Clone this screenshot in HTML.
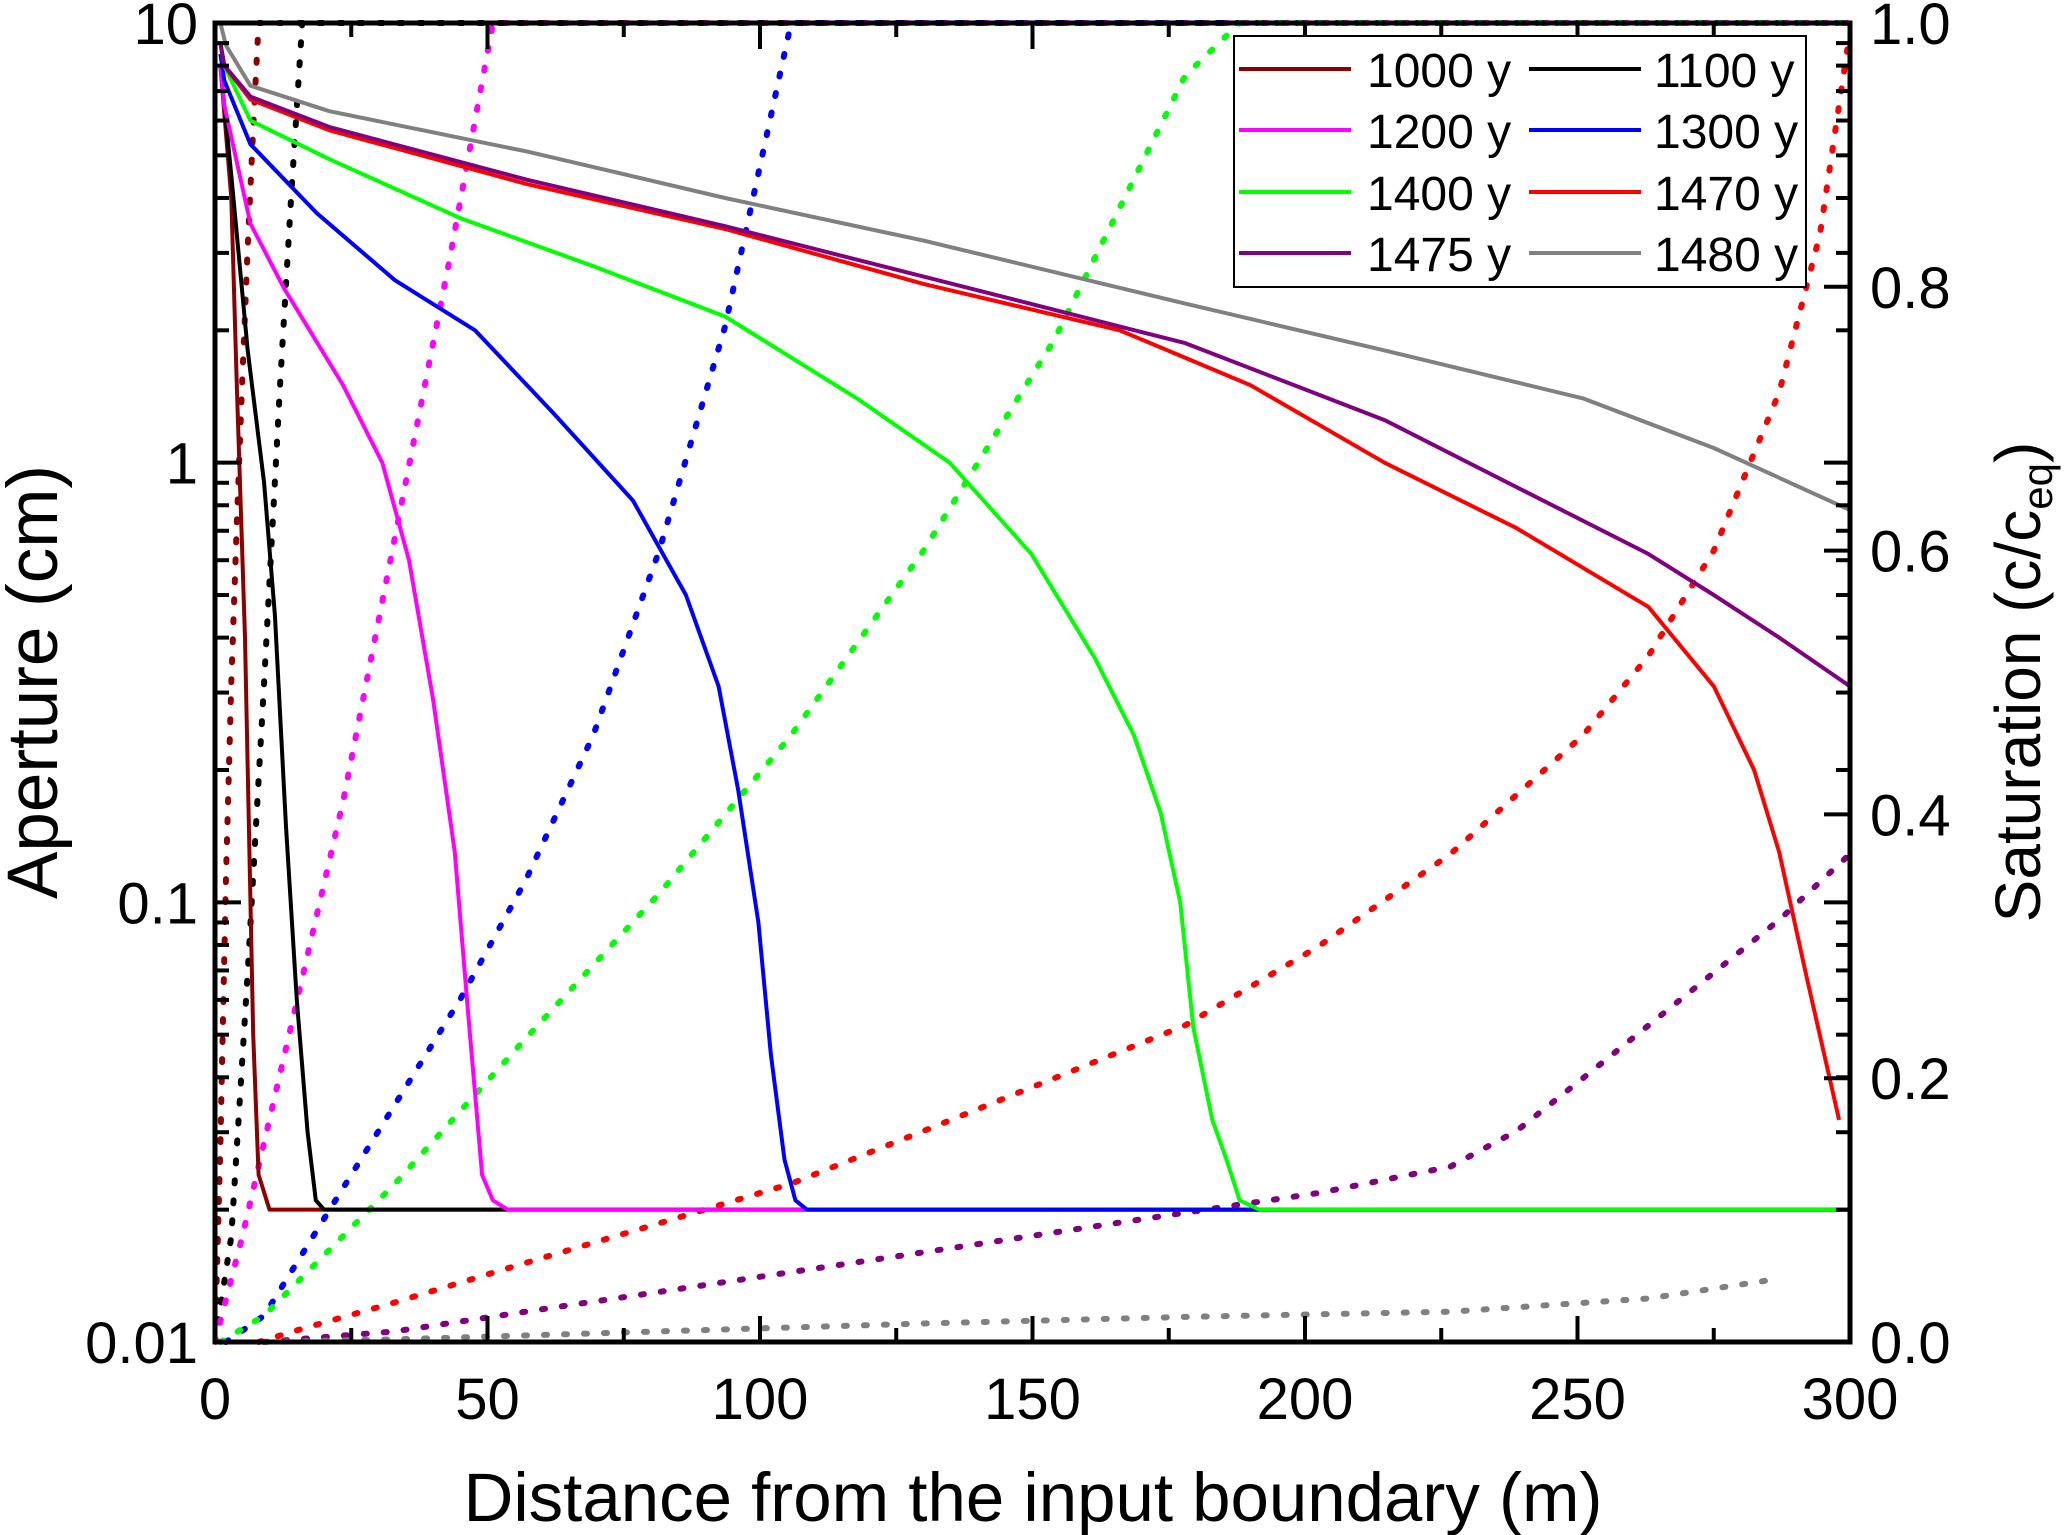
<!DOCTYPE html>
<html><head><meta charset="utf-8"><style>
html,body{margin:0;padding:0;background:#fff;}
svg{display:block;font-family:"Liberation Sans",Arial,sans-serif;}
</style></head><body>
<svg id="chart" width="2067" height="1535" viewBox="0 0 2067 1535" xmlns="http://www.w3.org/2000/svg">
<g id="marks"></g>
<g id="axes"></g>
</svg>
<script>
const seriesNames = ["1000 y","1100 y","1200 y","1300 y","1400 y","1470 y","1475 y","1480 y"];
const seriesColors = ["#8b0000","#000000","#ff00ff","#0000ff","#00ff00","#ff0000","#800080","#808080"];
const xTicks = [0,50,100,150,200,250,300];
const yTicks = [0.01,0.1,1,10];
const yTickLabels = ["0.01","0.1","1","10"];
const satTicks = [0,0.2,0.4,0.6,0.8,1.0];
const satTickLabels = ["0.0","0.2","0.4","0.6","0.8","1.0"];
const aperture1000 = [[1,8],[3,4],[4,1.5],[5.5,0.4],[7,0.05],[8,0.024],[10,0.02],[300,0.02]];
const aperture1100 = [[1,8],[3,4.5],[6,1.8],[9,0.9],[11,0.45],[13,0.15],[15,0.06],[17,0.03],[18.5,0.021],[20,0.02],[300,0.02]];
const aperture1200 = [[1,8],[1.7,6.5],[6.5,3.5],[12.6,2.5],[23.5,1.5],[30.7,1],[35.6,0.6],[40,0.29],[44,0.13],[46.5,0.055],[49,0.024],[51,0.021],[53.7,0.02],[300,0.02]];
const aperture1300 = [[1,8.5],[1.7,7.4],[6.5,5.3],[18.6,3.7],[33,2.6],[47.7,2],[62,1.3],[76.7,0.82],[86.4,0.5],[92.4,0.31],[96,0.18],[99.7,0.09],[102,0.045],[104.5,0.026],[106.5,0.021],[108.6,0.02],[300,0.02]];
const aperture1400 = [[1,9],[1.7,8],[6.5,6],[21,4.9],[45,3.6],[69.4,2.8],[93.6,2.15],[117.8,1.4],[134.8,1],[149.8,0.62],[161.4,0.36],[168.6,0.24],[173.5,0.16],[177.1,0.1],[179.5,0.052],[183,0.032],[185.6,0.026],[188,0.021],[191.6,0.02],[300,0.02]];
const aperture1470 = [[1,9],[1.7,8],[6.5,6.7],[21,5.7],[57.3,4.3],[93.6,3.4],[130,2.55],[166,2],[190,1.5],[214.6,1],[238.8,0.71],[263,0.47],[275,0.31],[282.4,0.2],[287,0.13],[292,0.068],[298,0.032]];
const aperture1475 = [[1,9],[1.7,8],[6.5,6.8],[21,5.8],[57.3,4.4],[93.6,3.45],[130,2.65],[178,1.87],[214.6,1.25],[238.8,0.88],[263,0.62],[275,0.5],[287,0.4],[300,0.31]];
const aperture1480 = [[1,10],[2,8.9],[6.5,7.2],[21,6.3],[57.3,5.1],[93.6,4],[130,3.2],[178,2.3],[214.6,1.8],[251,1.4],[275,1.08],[300,0.78]];
const sat1000 = [[0,0],[1,0.15],[2,0.35],[3,0.5],[4,0.62],[5,0.73],[6,0.83],[7,0.92],[8,1.0],[300,1.0]];
const sat1100 = [[0,0],[3,0.08],[6,0.28],[9,0.5],[12,0.73],[14,0.87],[16,1],[300,1]];
const sat1200 = [[0,0],[5,0.08],[14,0.24],[23.5,0.41],[33,0.61],[43,0.82],[51,1],[300,1]];
const sat1300 = [[2,0],[9,0.02],[21,0.1],[33,0.18],[45,0.26],[57,0.35],[69.4,0.46],[81.5,0.6],[93.6,0.77],[105.7,1],[300,1]];
const sat1400 = [[1,0],[9,0.02],[33,0.12],[57,0.23],[81.5,0.34],[105.7,0.46],[130,0.6],[154,0.76],[178,0.96],[188,1],[300,1]];
const sat1470 = [[8,0],[16,0.01],[33,0.03],[57,0.06],[81.5,0.09],[105.7,0.12],[130,0.16],[154,0.2],[178,0.24],[202.5,0.3],[226.7,0.37],[251,0.46],[263,0.52],[275,0.6],[287,0.72],[294.5,0.84],[299.5,0.98]];
const sat1475 = [[9,0],[33,0.008],[57,0.023],[81.5,0.038],[105.7,0.053],[130,0.068],[154,0.083],[178,0.098],[202.5,0.113],[226.7,0.133],[238.8,0.16],[251,0.2],[275,0.28],[287,0.32],[300,0.37]];
const sat1480 = [[9,0],[33,0.002],[81.5,0.008],[130,0.014],[178,0.019],[226.7,0.023],[263,0.033],[287,0.048]];
const apertureSeries = [aperture1000,aperture1100,aperture1200,aperture1300,aperture1400,aperture1470,aperture1475,aperture1480];
const satSeries = [sat1000,sat1100,sat1200,sat1300,sat1400,sat1470,sat1475,sat1480];

const L=215,R=1850,T=23,B=1342;
const NS="http://www.w3.org/2000/svg";
function xS(d){return L+d*(R-L)/300;}
function yS(v){return B-(Math.log10(v)+2)*(B-T)/3;}
function sS(s){return B-s*(B-T);}
function mk(tag,attrs,parent){const e=document.createElementNS(NS,tag);for(const k in attrs)e.setAttribute(k,attrs[k]);parent.appendChild(e);return e;}
const marks=document.getElementById('marks');
const axes=document.getElementById('axes');
const clip=mk('clipPath',{id:'pc'},marks);
mk('rect',{x:L,y:T-4,width:R-L,height:B-T+8},clip);
const mg=mk('g',{'clip-path':'url(#pc)'},marks);
satSeries.forEach((s,i)=>{
  const p=mk('path',{d:'M'+s.map(q=>xS(q[0]).toFixed(1)+','+sS(q[1]).toFixed(1)).join('L'),fill:'none',stroke:seriesColors[i],'stroke-width':6,'stroke-dasharray':'3 17','stroke-linecap':'round','stroke-linejoin':'round'},mg);
  
  
});
apertureSeries.forEach((s,i)=>{
  const p=mk('path',{d:'M'+s.map(q=>xS(q[0]).toFixed(1)+','+yS(q[1]).toFixed(1)).join('L'),fill:'none',stroke:seriesColors[i],'stroke-width':4,'stroke-linejoin':'round'},mg);
  
  
});
const fr=mk('rect',{x:L,y:T,width:R-L,height:B-T,fill:'none',stroke:'#000','stroke-width':5},axes);


for(let d=0;d<=300;d+=25){
  const len=d%50===0?26:14;
  mk('line',{x1:xS(d),x2:xS(d),y1:B,y2:B-len,stroke:'#000','stroke-width':4},axes);
  mk('line',{x1:xS(d),x2:xS(d),y1:T,y2:T+len,stroke:'#000','stroke-width':4},axes);
}
xTicks.forEach(d=>{
  const t=mk('text',{x:xS(d),y:1419,'font-size':58,'text-anchor':'middle'},axes);
  t.textContent=String(d);
  
  
});
for(let e=-2;e<1;e++){
  for(let m=1;m<10;m++){
    const v=m*Math.pow(10,e);const len=m===1?26:14;
    mk('line',{x1:L,x2:L+len,y1:yS(v),y2:yS(v),stroke:'#000','stroke-width':4},axes);
    mk('line',{x1:R,x2:R-len,y1:yS(v),y2:yS(v),stroke:'#000','stroke-width':4},axes);
  }
}
yTicks.forEach((v,i)=>{
  const t=mk('text',{x:198,y:yS(v)+21,'font-size':58,'text-anchor':'end'},axes);
  t.textContent=yTickLabels[i];
  
  
});
satTicks.forEach((s,i)=>{
  mk('line',{x1:R,x2:R-26,y1:sS(s),y2:sS(s),stroke:'#000','stroke-width':4},axes);
  const t=mk('text',{x:1870,y:sS(s)+21,'font-size':58},axes);
  t.textContent=satTickLabels[i];
  
  
});
</script>
<svg style="position:absolute;left:0;top:0" width="2067" height="1535" viewBox="0 0 2067 1535" xmlns="http://www.w3.org/2000/svg" font-family="Liberation Sans, Arial, sans-serif">
<text x="1033" y="1521" font-size="69" text-anchor="middle">Distance from the input boundary (m)</text>
<text transform="translate(57,682) rotate(-90)" font-size="71" text-anchor="middle">Aperture (cm)</text>
<text transform="translate(2040,682) rotate(-90)" font-size="64" text-anchor="middle">Saturation (c/c<tspan font-size="42" dy="12">eq</tspan><tspan dy="-12">)</tspan></text>
<g>
<rect x="1234" y="36" width="572" height="251" fill="#fff" stroke="#000" stroke-width="2"/>
<line x1="1239" x2="1351" y1="69" y2="69" stroke="#8b0000" stroke-width="4"/><text x="1367" y="87" font-size="48">1000 y</text>
<line x1="1529" x2="1641" y1="69" y2="69" stroke="#000" stroke-width="4"/><text x="1654" y="87" font-size="48">1100 y</text>
<line x1="1239" x2="1351" y1="130" y2="130" stroke="#ff00ff" stroke-width="4"/><text x="1367" y="148" font-size="48">1200 y</text>
<line x1="1529" x2="1641" y1="130" y2="130" stroke="#0000ff" stroke-width="4"/><text x="1654" y="148" font-size="48">1300 y</text>
<line x1="1239" x2="1351" y1="192" y2="192" stroke="#00ff00" stroke-width="4"/><text x="1367" y="210" font-size="48">1400 y</text>
<line x1="1529" x2="1641" y1="192" y2="192" stroke="#ff0000" stroke-width="4"/><text x="1654" y="210" font-size="48">1470 y</text>
<line x1="1239" x2="1351" y1="253" y2="253" stroke="#800080" stroke-width="4"/><text x="1367" y="271" font-size="48">1475 y</text>
<line x1="1529" x2="1641" y1="253" y2="253" stroke="#808080" stroke-width="4"/><text x="1654" y="271" font-size="48">1480 y</text>
</g>
</svg>
</body></html>
